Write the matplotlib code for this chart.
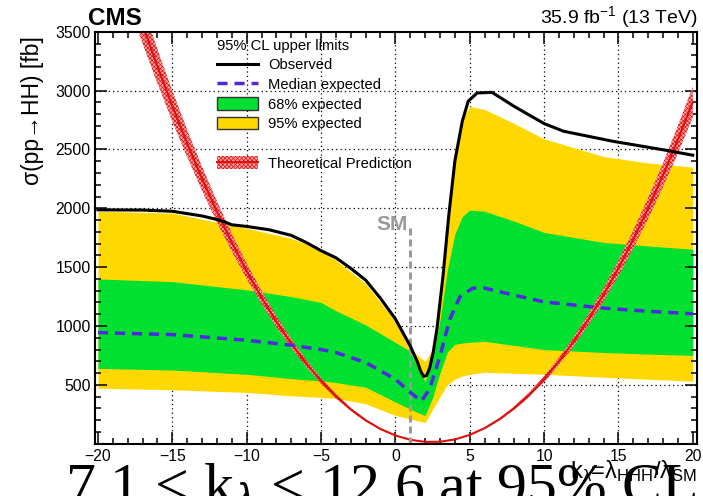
import matplotlib
matplotlib.use('Agg')
import matplotlib.pyplot as plt
from matplotlib.lines import Line2D
from matplotlib.patches import Patch
import numpy as np

plt.rcParams['font.family'] = ['Liberation Sans', 'DejaVu Sans']
plt.rcParams['mathtext.fontset'] = 'custom'
plt.rcParams['mathtext.rm'] = 'Liberation Sans'
plt.rcParams['mathtext.it'] = 'Liberation Sans:italic'
plt.rcParams['mathtext.bf'] = 'Liberation Sans:bold'
plt.rcParams['hatch.linewidth'] = 0.5

# --- data (fb) ---
kl_band = [-20, -15, -10, -7, -5, -4, -2, 0, 1, 1.5, 2, 2.5, 3, 3.5, 4, 4.5, 5, 6, 8, 10, 14, 17, 20]
exp95_hi = [1975, 1960, 1830, 1745, 1650, 1560, 1360, 1040, 810, 750, 700, 800, 1250, 1850, 2420, 2760, 2865,
            2840, 2720, 2590, 2440, 2385, 2350]
exp68_hi = [1400, 1377, 1307, 1250, 1200, 1130, 1010, 860, 787, 650, 530, 720, 1050, 1480, 1780, 1930, 1985,
            1975, 1890, 1795, 1710, 1680, 1652]
exp68_lo = [640, 626, 590, 553, 534, 520, 480, 355, 295, 265, 240, 390, 600, 780, 845, 855, 862,
            870, 835, 800, 775, 762, 750]
exp95_lo = [472, 458, 436, 407, 393, 385, 340, 240, 210, 195, 180, 290, 400, 500, 550, 575, 590,
            607, 598, 590, 565, 548, 531]

kl_median = [-20, -15, -10, -7, -5, -4, -2, 0, 1, 1.75, 2.3, 3, 3.65, 4.35, 5.2, 6, 8, 10, 14, 17, 20]
exp_median = [944, 927, 879, 837, 800, 775, 690, 548, 436, 362, 464, 744, 1054, 1250, 1321, 1322, 1262,
              1205, 1152, 1125, 1104]

kl_obs = [-20, -17, -15, -13, -12, -11.5, -11, -10, -8.5, -7, -6, -5, -4, -3, -2, -1, 0, 1, 1.5, 1.7, 1.9,
          2.1, 2.3, 2.55, 2.8, 3.2, 3.6, 4, 4.5, 4.9, 5.5, 6.5, 8, 10, 11.3, 14.6, 18.2, 20]
obs_limit = [1987, 1985, 1975, 1935, 1905, 1885, 1860, 1846, 1818, 1770, 1710, 1640, 1580, 1490, 1390, 1235,
             1060, 830, 690, 615, 572, 580, 640, 780, 980, 1420, 1950, 2400, 2740, 2910, 2980, 2985, 2865,
             2720, 2655, 2570, 2493, 2451]

kl_theory = list(range(-18, 21))
xs_theory = [3935, 3561, 3206, 2869, 2551, 2252, 1971, 1710, 1467, 1243, 1037, 851, 683, 534, 404, 292, 199,
             125, 70, 33.5, 15.7, 16.8, 36.5, 75, 132, 208, 303, 417, 549, 700, 870, 1059, 1266, 1492, 1737,
             2001, 2283, 2584, 2904]
theory_unc = 0.045  # relative width of the theory band

kl_sm = 1
sm_line_top = 1870

# --- colours ---
c_green = '#00E030'
c_yellow = '#FFD800'
c_blue = '#5028E0'
c_red = '#E01010'
c_sm = '#9A9A9A'

fig = plt.figure(figsize=(7.03, 4.96), dpi=100)
ax = fig.add_axes([0.1351, 0.1054, 0.8563, 0.8306])
ax.set_xlim(-20.2, 20.28)
ax.set_ylim(0, 3500)

# dotted grid (under everything)
for v in [-15, -10, -5, 0, 5, 10, 15]:
    ax.axvline(v, color='black', lw=0.9, ls=(0, (1, 2.5)), zorder=0)
for v in [500, 1000, 1500, 2000, 2500, 3000]:
    ax.axhline(v, color='black', lw=0.9, ls=(0, (1, 2.5)), zorder=0)

ax.fill_between(kl_band, exp95_lo, exp95_hi, color=c_yellow, lw=0, zorder=1)
ax.fill_between(kl_band, exp68_lo, exp68_hi, color=c_green, lw=0, zorder=1.1)

th = np.array(xs_theory)
ax.fill_between(kl_theory, th * (1 - theory_unc), th * (1 + theory_unc), facecolor='#F7A8A8',
                edgecolor=c_red, hatch='xxxxxxxx', lw=0, zorder=2)
ax.plot(kl_theory, xs_theory, color=c_red, lw=1.5, zorder=2.1)

ax.plot([kl_sm, kl_sm], [0, sm_line_top], color=c_sm, lw=2.2, ls=(0, (2.3, 1.3)), zorder=2.5)
ax.text(0.85, 1860, 'SM', color=c_sm, fontsize=15, fontweight='bold', ha='right', va='center', zorder=3)

ax.plot(kl_median, exp_median, color=c_blue, lw=2.5, ls=(0, (2.9, 2)), zorder=3)
ax.plot(kl_obs, obs_limit, color='black', lw=2.2, zorder=4)

# axes styling (ROOT-like)
ax.set_xticks([-20, -15, -10, -5, 0, 5, 10, 15, 20])
ax.set_xticks(np.arange(-20, 21, 1), minor=True)
ax.set_yticks([500, 1000, 1500, 2000, 2500, 3000, 3500])
ax.set_yticks(np.arange(100, 3500, 100), minor=True)
ax.tick_params(which='both', direction='in', top=True, right=True, labelsize=11.3, width=1.1)
ax.tick_params(which='major', length=8.5)
ax.tick_params(which='minor', length=4.3)
ax.tick_params(axis='x', pad=4)
ax.tick_params(axis='y', pad=3)
for s in ax.spines.values():
    s.set_linewidth(1.5)

ax.set_ylabel('σ(pp→HH) [fb]', fontsize=16.5, loc='top')
ax.yaxis.set_label_coords(-0.084, 0.99)
ax.set_xlabel(r'k$_{\mathrm{λ}}$=λ$_{\mathrm{HHH}}$/λ$_{\mathrm{SM}}$', fontsize=17, loc='right')
ax.xaxis.set_label_coords(1.0, -0.035)
ax.xaxis.label.set_va('top')

fig.text(88 / 703, 0.9496, 'CMS', fontsize=17.5, fontweight='bold', ha='left', va='baseline')
fig.text(698 / 703, 0.953, r'35.9 fb$^{\mathrm{-1}}$ (13 TeV)', fontsize=14, ha='right', va='baseline')

# legend
handles = [
    Line2D([], [], color='black', lw=2.2),
    Line2D([], [], color=c_blue, lw=2.5, ls=(0, (2.9, 2))),
    Patch(facecolor=c_green, edgecolor='#333333', lw=1),
    Patch(facecolor=c_yellow, edgecolor='#333333', lw=1),
    Line2D([], [], color='none'),
    (Patch(facecolor='#F7A8A8', edgecolor=c_red, hatch='xxxxxxxx', lw=0), Line2D([], [], color=c_red, lw=1.5)),
]
labels = ['Observed', 'Median expected', '68% expected', '95% expected', ' ', 'Theoretical Prediction']
leg = ax.legend(handles, labels, title='95% CL upper limits', loc='upper left',
                bbox_to_anchor=(0.186, 1.008), frameon=False, fontsize=10.6, title_fontsize=10.6,
                alignment='left', handlelength=2.8, handleheight=0.9, handletextpad=0.65,
                labelspacing=0.37, borderpad=0.2)
leg.set_zorder(5)

# slide caption overlapping the bottom of the image
fig.text(65 / 703, -0.0181, r'7.1 < k$_{λ}$ < 12.6 at 95% CL', family='Liberation Serif', fontsize=43,
         ha='left', va='baseline', zorder=-1)

fig.savefig('out.png', dpi=100, facecolor='white')
